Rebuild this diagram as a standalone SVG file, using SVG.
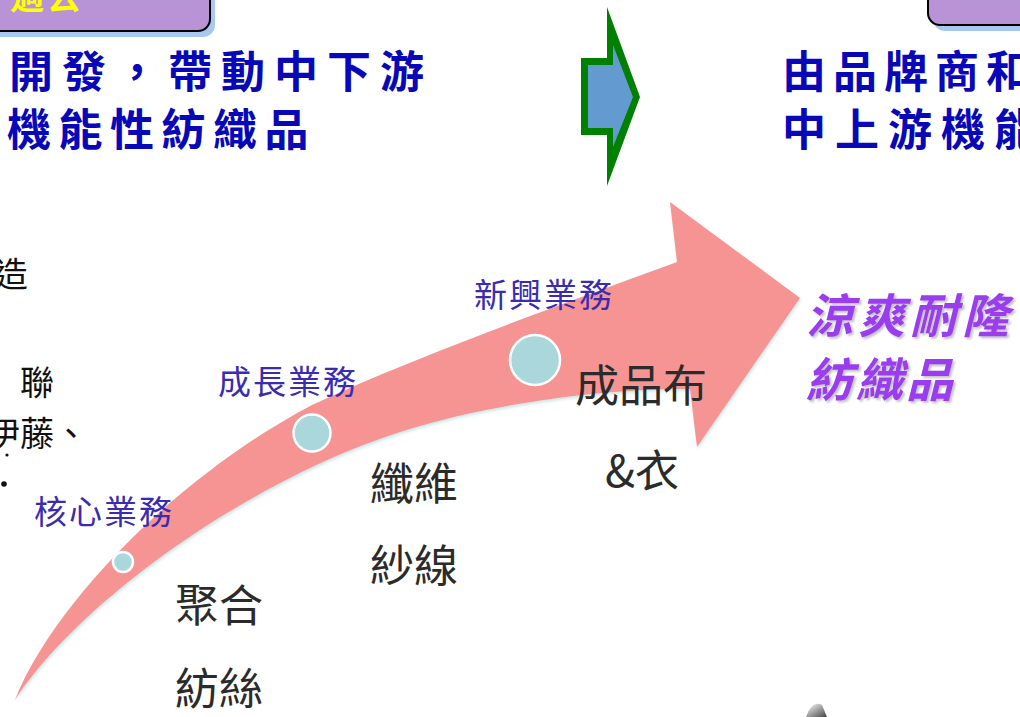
<svg xmlns="http://www.w3.org/2000/svg" width="1020" height="717" viewBox="0 0 1020 717">
<defs>
<style>
.title{font-family:"Noto Sans CJK TC",sans-serif;font-weight:bold;fill:#0808b8;font-size:44px}
.serif{font-family:"Liberation Serif","Noto Sans CJK TC",serif;fill:#111;font-size:34px}
.lbl{font-family:"Noto Sans CJK TC",sans-serif;fill:#3a2cb0;font-size:33px;letter-spacing:2px}
.stage{font-family:"Noto Sans CJK TC",sans-serif;fill:#2b2b2b;font-size:44px}
.purple{font-family:"Noto Sans CJK TC",sans-serif;font-weight:bold;font-style:italic;fill:#9b3cee;font-size:47px}
.dot{stroke:#fff;stroke-width:2.5;fill:#a9d7db}
</style>
<filter id="sh" x="-10%" y="-10%" width="130%" height="140%">
<feDropShadow dx="2" dy="2" stdDeviation="1.2" flood-color="#999" flood-opacity="0.6"/>
</filter>
<filter id="soft" x="-5%" y="-5%" width="110%" height="110%">
<feDropShadow dx="1" dy="2" stdDeviation="1.5" flood-color="#9cc" flood-opacity="0.5"/>
</filter>
<linearGradient id="gb" x1="0" y1="0" x2="1" y2="1">
<stop offset="0" stop-color="#fff"/>
<stop offset="1" stop-color="#444"/>
</linearGradient>
</defs>
<rect width="1020" height="717" fill="#fff"/>

<g id="past-box">
<rect x="-20" y="-20" width="235" height="57" rx="12" fill="#a9c8f0"/>
<rect x="-20" y="-20" width="230" height="51" rx="12" fill="#b893d6" stroke="#000" stroke-width="2"/>
<text x="10" y="9" font-family="Noto Sans CJK TC,sans-serif" font-weight="bold" font-size="34" fill="#ffff00" letter-spacing="3">過去</text>
</g>

<g id="future-box">
<rect x="933" y="-20" width="120" height="51" rx="12" fill="#a9c8f0"/>
<rect x="928" y="-20" width="120" height="45" rx="12" fill="#b893d6" stroke="#000" stroke-width="2"/>
</g>

<g id="left-title">
<text class="title" x="9" y="88" letter-spacing="9">開發，帶動中下游</text>
<text class="title" x="7" y="146" letter-spacing="7.5">機能性紡織品</text>
</g>

<g id="right-title">
<text class="title" x="782" y="88" letter-spacing="7">由品牌商和</text>
<text class="title" x="782" y="146" letter-spacing="9">中上游機能</text>
</g>

<g id="green-arrow">
<polygon points="607,7 640,97 607,186 607,135 581,135 581,58 607,58" fill="#008000"/>
<polygon points="588,65 613,65 613,45 633,97 613,147 613,128 588,128" fill="#639bd1"/>
</g>

<g id="left-notes">
<text class="serif" x="-6" y="287">造</text>
<text class="serif" x="20" y="395">聯</text>
<text class="serif" x="-14" y="446">伊藤、</text>
<circle cx="7" cy="455" r="1.6" fill="#111"/>
<circle cx="4" cy="484" r="2.8" fill="#111"/>
</g>

<g id="connectors">
<path id="growth-arrow" filter="url(#soft)" fill="#f69494" d="M15,700 C50,610 170,480 312,405 C420,355 560,305 677,262 L670,202 L800,298 L697,447 L690,389 C620,388 500,400 400,432 C250,480 80,600 15,700 Z"/>
</g>

<g id="core">
<circle class="dot" cx="123" cy="562" r="10"/>
<text class="lbl" x="34" y="524">核心業務</text>
</g>
<g id="growth">
<circle class="dot" cx="312" cy="433" r="18.5"/>
<text class="lbl" x="218" y="394">成長業務</text>
</g>
<g id="emerging">
<circle class="dot" cx="535" cy="360" r="25"/>
<text class="lbl" x="474" y="307">新興業務</text>
</g>

<g id="stage-polymer">
<text class="stage" x="175" y="622">聚合</text>
<text class="stage" x="175" y="705">紡絲</text>
</g>
<g id="stage-fiber">
<text class="stage" x="370" y="500">纖維</text>
<text class="stage" x="370" y="582">紗線</text>
</g>
<g id="stage-fabric">
<text class="stage" x="575" y="402" font-size="46">成品布</text>
<text class="stage" x="605" y="487">&amp;衣</text>
</g>

<g id="result" filter="url(#sh)">
<text class="purple" x="806" y="333" letter-spacing="5">涼爽耐隆</text>
<text class="purple" x="806" y="397" letter-spacing="3">紡織品</text>
</g>

<path d="M806,717 Q812,700 822,705 L827,717 Z" fill="url(#gb)"/>
</svg>
